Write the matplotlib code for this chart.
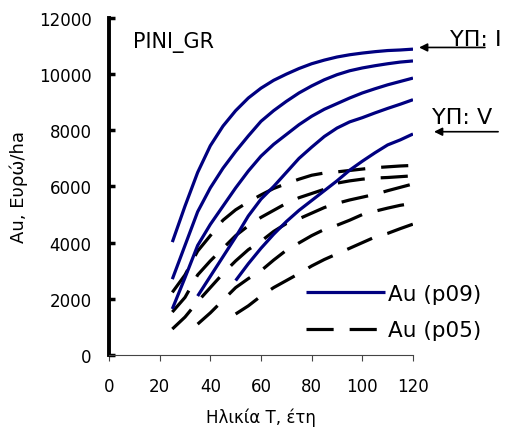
import matplotlib
matplotlib.use("Agg")
import matplotlib.pyplot as plt

# Stand age (years) on a 5-year grid
ages_25 = [25, 30, 35, 40, 45, 50, 55, 60, 65, 70, 75, 80, 85, 90, 95, 100, 105, 110, 115, 120]
ages_35 = ages_25[2:]
ages_50 = ages_25[5:]

# Au (p09) per site class I..V, Euro/ha
p09_I = [4020, 5300, 6500, 7450, 8150, 8700, 9150, 9500, 9780, 10000,
         10200, 10370, 10500, 10610, 10690, 10750, 10800, 10840, 10860, 10890]
p09_II = [2700, 3900, 5100, 5950, 6650, 7250, 7800, 8320, 8700, 9030,
          9330, 9580, 9800, 9980, 10120, 10220, 10300, 10370, 10430, 10470]
p09_III = [1640, 2750, 3900, 4650, 5300, 5950, 6550, 7080, 7500, 7850,
           8200, 8500, 8750, 8950, 9150, 9330, 9480, 9620, 9740, 9860]
p09_IV = [2100, 2800, 3500, 4200, 4950, 5550, 6000, 6500, 7000,
          7400, 7780, 8080, 8300, 8450, 8620, 8780, 8930, 9090]
p09_V = [2650, 3250, 3800, 4300, 4750, 5150, 5500, 5850,
         6200, 6580, 6900, 7200, 7480, 7660, 7870]

# Au (p05) per site class I..V, Euro/ha
p05_I = [2230, 2850, 3700, 4250, 4800, 5170, 5450, 5700, 5930, 6100,
         6260, 6400, 6480, 6520, 6570, 6620, 6670, 6700, 6730, 6750]
p05_II = [1530, 2050, 2850, 3350, 3800, 4250, 4600, 4900, 5150, 5400,
          5600, 5750, 5900, 6120, 6200, 6260, 6300, 6320, 6350, 6380]
p05_III = [925, 1350, 1900, 2400, 2900, 3350, 3750, 4050, 4400, 4680,
           4850, 5050, 5250, 5400, 5520, 5620, 5720, 5850, 5970, 6090]
p05_IV = [1100, 1500, 1950, 2400, 2720, 3000, 3380, 3730, 3990,
          4250, 4470, 4620, 4800, 5000, 5120, 5230, 5330, 5400]
p05_V = [1460, 1750, 2100, 2400, 2650, 2900, 3170, 3400,
         3600, 3800, 4000, 4200, 4330, 4500, 4660]

x_ticks = [0, 20, 40, 60, 80, 100, 120]
y_ticks = [0, 2000, 4000, 6000, 8000, 10000, 12000]

plt.rcParams['font.family'] = ['DejaVu Sans']

fig = plt.figure(figsize=(5.05, 4.31), dpi=100)
ax = fig.add_axes([0.2158, 0.174, 0.602, 0.782])

navy = '#000080'
blue_kw = dict(color=navy, lw=2.3, solid_capstyle='butt')
dash_kw = dict(color='black', lw=2.3, dashes=(8.5, 5.0), dash_capstyle='butt')

p09_series = [(ages_25, p09_I), (ages_25, p09_II), (ages_25, p09_III),
              (ages_35, p09_IV), (ages_50, p09_V)]
p05_series = [(ages_25, p05_I), (ages_25, p05_II), (ages_25, p05_III),
              (ages_35, p05_IV), (ages_50, p05_V)]

for i, (xs, ys) in enumerate(p05_series):
    ax.plot(xs, ys, label='Au (p05)' if i == 0 else None, **dash_kw)
for i, (xs, ys) in enumerate(p09_series):
    ax.plot(xs, ys, label='Au (p09)' if i == 0 else None, **blue_kw)

ax.set_xlim(0, 120)
ax.set_ylim(0, 12000)
ax.set_xticks(x_ticks)
ax.set_yticks(y_ticks)
ax.tick_params(axis='both', labelsize=12, colors='black')
ax.tick_params(axis='y', direction='in', length=4, width=2.5, pad=12.5)
ax.tick_params(axis='x', direction='out', length=4, width=0.8, color='#444444', pad=11.5)

for s in ('top', 'right'):
    ax.spines[s].set_visible(False)
ax.spines['left'].set_linewidth(2.8)
ax.spines['left'].set_color('black')
ax.spines['bottom'].set_linewidth(0.8)
ax.spines['bottom'].set_color('#444444')

ax.set_xlabel('Ηλικία Τ, έτη', fontsize=12, labelpad=9)
ax.set_ylabel('Au, Ευρώ/ha', fontsize=13, labelpad=8)

ax.text(0.079, 0.914, 'PINI_GR', transform=ax.transAxes, fontsize=15,
        ha='left', va='baseline')

# Site class markers with arrows
ax.annotate('', xy=(122.4, 10950), xycoords='data', xytext=(148.4, 10950),
            textcoords='data', annotation_clip=False,
            arrowprops=dict(arrowstyle='-|>', color='black', lw=1.2,
                            mutation_scale=12, shrinkA=0, shrinkB=0))
ax.text(134.6, 11050, 'ΥΠ: I', fontsize=16, ha='left', va='baseline', clip_on=False)

ax.annotate('', xy=(128.3, 7950), xycoords='data', xytext=(153.6, 7950),
            textcoords='data', annotation_clip=False,
            arrowprops=dict(arrowstyle='-|>', color='black', lw=1.2,
                            mutation_scale=12, shrinkA=0, shrinkB=0))
ax.text(127.5, 8262, 'ΥΠ: V', fontsize=16, ha='left', va='baseline', clip_on=False)

handles, labels = ax.get_legend_handles_labels()
order = [labels.index('Au (p09)'), labels.index('Au (p05)')]
ax.legend([handles[k] for k in order], [labels[k] for k in order],
          loc='upper left', bbox_to_anchor=(306 / 505, 1 - 285 / 431),
          bbox_transform=fig.transFigure, frameon=False, borderpad=0,
          borderaxespad=0, fontsize=15.5, handlelength=3.67,
          handletextpad=0.15, labelspacing=0.75)

fig.savefig('out.png', dpi=100)
